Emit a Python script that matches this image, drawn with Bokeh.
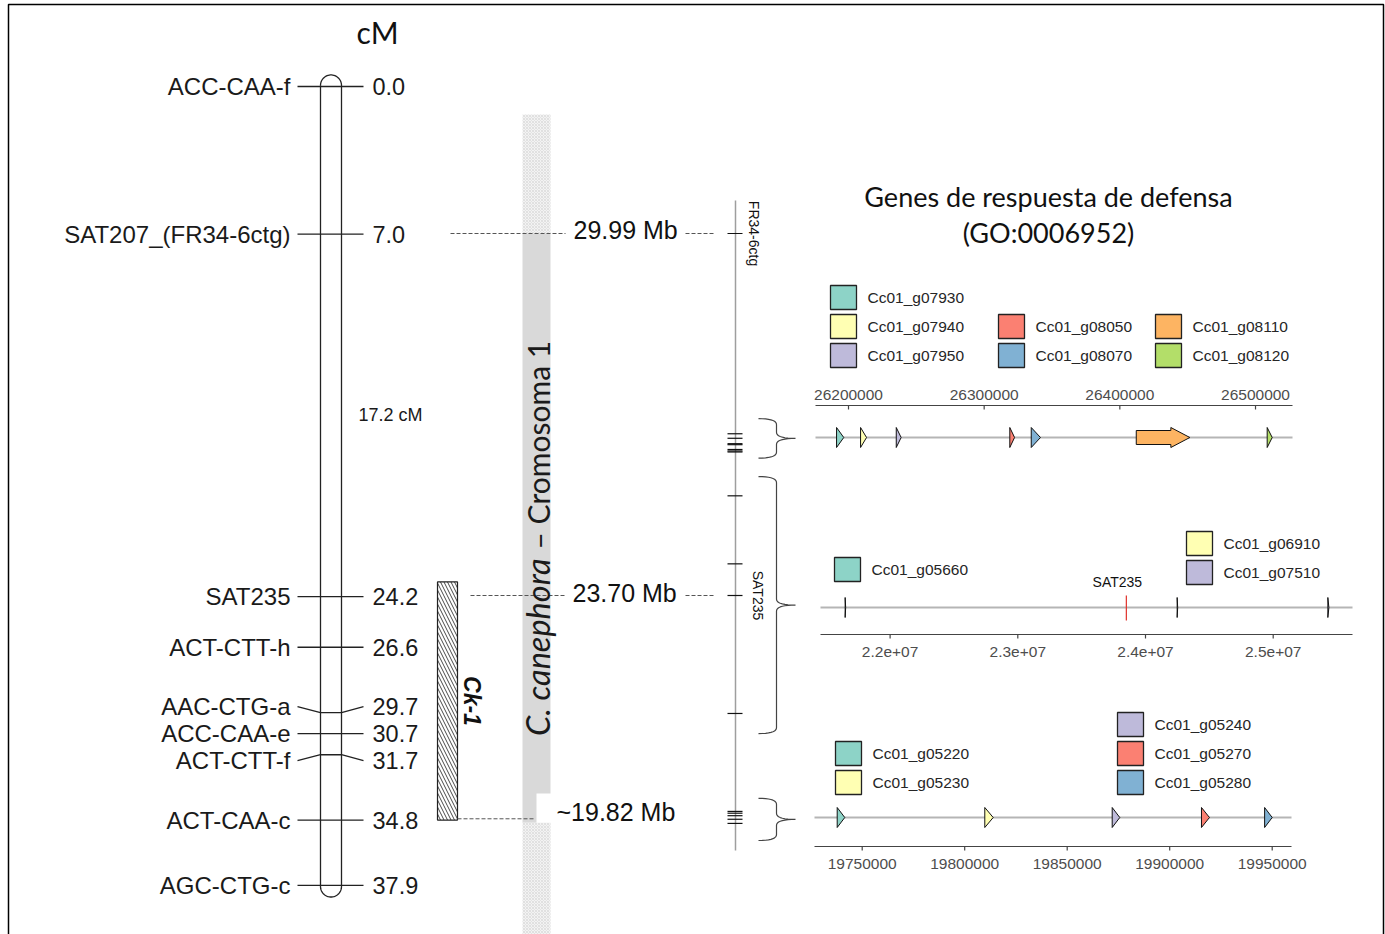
import numpy as np
from bokeh.plotting import figure
from bokeh.models import Range1d
from bokeh.core.properties import value
from bokeh.embed import file_html
from bokeh.resources import INLINE

# ===================== DATA =====================
marker_names = ["ACC-CAA-f", "SAT207_(FR34-6ctg)", "SAT235", "ACT-CTT-h",
                "AAC-CTG-a", "ACC-CAA-e", "ACT-CTT-f", "ACT-CAA-c", "AGC-CTG-c"]
marker_cm = [0.0, 7.0, 24.2, 26.6, 29.7, 30.7, 31.7, 34.8, 37.9]
qtl_label = "Ck-1"
qtl_cm = [23.5, 34.8]
interval_markers = [7.0, 24.2]

anchor_cm = [7.0, 24.2, 34.8]
anchor_mb = [29.99, 23.70, 19.82]
anchor_prefix = ["", "", "~"]

phys_markers = ["FR34-6ctg", "SAT235"]
phys_marker_mb = [29.99, 23.70]

chrom_species = "C. canephora"
chrom_name = "– Cromosoma 1"
title_lines = ["Genes de respuesta de defensa", "(GO:0006952)"]

t1_genes = ["Cc01_g07930", "Cc01_g07940", "Cc01_g07950", "Cc01_g08050",
            "Cc01_g08070", "Cc01_g08110", "Cc01_g08120"]
t1_start = [26191200, 26208900, 26235200, 26318900, 26334700, 26412100, 26508600]
t1_end = [26196500, 26213300, 26238800, 26322400, 26341500, 26451600, 26512300]
t1_ticks = [26200000, 26300000, 26400000, 26500000]

t2_genes = ["Cc01_g05660", "Cc01_g06910", "Cc01_g07510"]
t2_start = [21648000, 24248000, 25428000]
t2_end = [21652000, 24252000, 25436000]
t2_marker = "SAT235"
t2_marker_pos = 23850000
t2_ticks = [22000000, 23000000, 24000000, 25000000]

t3_genes = ["Cc01_g05220", "Cc01_g05230", "Cc01_g05240", "Cc01_g05270", "Cc01_g05280"]
t3_start = [19737800, 19809800, 19871950, 19915500, 19946300]
t3_end = [19741500, 19813900, 19875650, 19919400, 19950000]
t3_ticks = [19750000, 19800000, 19850000, 19900000, 19950000]

# ===================== STYLE / LAYOUT =====================
SET3 = ["#8DD3C7", "#FFFFB3", "#BEBADA", "#FB8072", "#80B1D3", "#FDB462", "#B3DE69"]
t1_colors = SET3[:7]
t2_colors = SET3[:3]
t3_colors = SET3[:5]

W, H = 1385, 934
ARIAL = value("Liberation Sans")
CALIBRI = value("Lato")

CM_Y0, CM_K = 86.0, 21.08          # px of 0 cM, px per cM
MB_REF, MB_Y0, MB_K = 23.70, 595.0, 57.55   # Mb reference, its px, px per Mb


def cm_px(c):
    return CM_Y0 + c * CM_K


def mb_px(m):
    return MB_Y0 + (MB_REF - m) * MB_K


p = figure(width=W, height=H, x_range=Range1d(0, W), y_range=Range1d(H, 0),
           output_backend="svg", toolbar_location=None, min_border=0,
           x_axis_location=None, y_axis_location=None, outline_line_color=None)
p.grid.visible = False
p.background_fill_color = "white"
p.border_fill_color = "white"

p.extra_y_ranges["cm"] = Range1d(start=(H - CM_Y0) / CM_K, end=(0 - CM_Y0) / CM_K)
p.extra_y_ranges["mb"] = Range1d(start=MB_REF - (H - MB_Y0) / MB_K, end=MB_REF + MB_Y0 / MB_K)


def track_range(anchor_bp, anchor_px, k):
    return Range1d(start=anchor_bp - anchor_px / k, end=anchor_bp + (W - anchor_px) / k)


K1, K2, K3 = 1.3567e-3, 127.7e-6, 2.05e-3
p.extra_x_ranges["t1"] = track_range(t1_ticks[0], 848.0, K1)
p.extra_x_ranges["t2"] = track_range(t2_ticks[2], 1145.0, K2)
p.extra_x_ranges["t3"] = track_range(t3_ticks[0], 861.7, K3)

# frame
p.line(x=[8, 8, 1383, 1383], y=[940, 4, 4, 940], line_color="black", line_width=1.5)

# ===================== LINKAGE MAP =====================
p.text(x=[377], y=[31], text=["cM"], text_font=CALIBRI, text_font_size="30px",
       text_align="center", text_baseline="middle", text_color="#111111")

# tube outline
cx, r = 330.5, 10.5
yt, yb = cm_px(-0.55) + r, cm_px(38.45) - r
ta = np.linspace(np.pi, 0, 30)
tb = np.linspace(0, -np.pi, 30)
tx = list(cx + r * np.cos(ta)) + list(cx + r * np.cos(tb)) + [cx - r]
ty = list(yt - r * np.sin(ta)) + list(yb - r * np.sin(tb)) + [yt]
p.line(x=tx, y=ty, line_color="#222222", line_width=1.3)

label_shift_px = [0, 0, 0, 0, -6, 0, 6, 0, 0]
lab_cm = [c + s / CM_K for c, s in zip(marker_cm, label_shift_px)]
xs_m, ys_m = [], []
for c, lc in zip(marker_cm, lab_cm):
    xs_m.append([297, 320, 341, 363])
    ys_m.append([lc, c, c, lc])
p.multi_line(xs=xs_m, ys=ys_m, y_range_name="cm", line_color="#222222", line_width=1.3)
p.text(x=[290] * len(marker_names), y=lab_cm, text=marker_names, y_range_name="cm",
       text_font=ARIAL, text_font_size="24px", text_align="right",
       text_baseline="middle", text_color="#1a1a1a")
p.text(x=[372] * len(marker_cm), y=lab_cm, text=[f"{c:.1f}" for c in marker_cm],
       y_range_name="cm", text_font=ARIAL, text_font_size="23.5px", text_align="left",
       text_baseline="middle", text_color="#1a1a1a")
p.text(x=[358], y=[sum(interval_markers) / 2], y_range_name="cm",
       text=[f"{interval_markers[1] - interval_markers[0]:.1f} cM"],
       text_font=ARIAL, text_font_size="18px", text_align="left",
       text_baseline="middle", text_color="#1a1a1a")

# QTL box
p.quad(left=[437], right=[457], top=[qtl_cm[0]], bottom=[qtl_cm[1]], y_range_name="cm",
       fill_color="white", line_color="#222222", line_width=1.2,
       hatch_pattern="\\", hatch_scale=7, hatch_color="#333333", hatch_weight=0.9)
p.text(x=[471], y=[sum(qtl_cm) / 2], text=[qtl_label], y_range_name="cm", angle=-np.pi / 2,
       text_font=ARIAL, text_font_size="23px", text_font_style="bold italic",
       text_align="center", text_baseline="middle", text_color="#111111")

# ===================== PHYSICAL CHROMOSOME BAR =====================
bar_l, bar_r = 522, 550
dot_kw = dict(fill_color="#f3f3f3", line_color=None, hatch_pattern="diagonal_cross",
              hatch_scale=3, hatch_color="#d4d4d4", hatch_weight=0.6)
p.quad(left=[bar_l], right=[bar_r], top=[114], bottom=[mb_px(anchor_mb[0])], **dot_kw)
p.quad(left=[bar_l], right=[bar_r], top=[mb_px(anchor_mb[0])], bottom=[mb_px(anchor_mb[2]) + 4],
       fill_color="#d9d9d9", line_color=None)
p.quad(left=[bar_l], right=[bar_r], top=[mb_px(anchor_mb[2]) + 4], bottom=[H], **dot_kw)
p.quad(left=[536], right=[552], top=[793], bottom=[mb_px(anchor_mb[2]) + 4],
       fill_color="white", line_color=None)

# connectors
left_x0 = [450, 470, 457]
left_x1 = [565, 565, 535]
text_x = [573, 572, 556]
text_dy = [-4, -3, -7]
p.segment(x0=left_x0, y0=anchor_mb, x1=left_x1, y1=anchor_mb, y_range_name="mb",
          line_color="#555555", line_width=1, line_dash="4 2")
p.segment(x0=[685, 685], y0=anchor_mb[:2], x1=[715, 715], y1=anchor_mb[:2], y_range_name="mb",
          line_color="#555555", line_width=1, line_dash="4 2")
for tx_, m, pre, dy in zip(text_x, anchor_mb, anchor_prefix, text_dy):
    p.text(x=[tx_], y=[m], y_range_name="mb", y_offset=dy,
           text=[f"{pre}{m:.2f} Mb"],
           text_font=ARIAL, text_font_size="25px", text_align="left",
           text_baseline="middle", text_color="#111111")

# chromosome label
split_px = 558
p.text(x=[537], y=[split_px], text=[chrom_species], angle=np.pi / 2,
       text_font=CALIBRI, text_font_size="32.5px", text_font_style="italic",
       text_align="right", text_baseline="middle", text_color="#1a1a1a")
p.text(x=[537], y=[split_px - 9], text=[chrom_name], angle=np.pi / 2,
       text_font=CALIBRI, text_font_size="30px",
       text_align="left", text_baseline="middle", text_color="#1a1a1a")

# ===================== PHYSICAL LINE =====================
p.segment(x0=[735], y0=[200], x1=[735], y1=[850], line_color="#9e9e9e", line_width=1.5)
gene_mb = ([(s + e) / 2e6 for s, e in zip(t1_start, t1_end)] +
           [(s + e) / 2e6 for s, e in zip(t2_start, t2_end)] +
           [(s + e) / 2e6 for s, e in zip(t3_start, t3_end)])
all_ticks = gene_mb + phys_marker_mb
p.segment(x0=[727] * len(all_ticks), y0=all_ticks, x1=[742] * len(all_ticks), y1=all_ticks,
          y_range_name="mb", line_color="#111111", line_width=1.2)
p.text(x=[753, 757], y=phys_marker_mb, text=phys_markers, y_range_name="mb", angle=-np.pi / 2,
       text_font=ARIAL, text_font_size="14px", text_align="center",
       text_baseline="middle", text_color="#111111")


def qbez(p0, c, p1, n=10):
    t = np.linspace(0, 1, n)
    x = (1 - t) ** 2 * p0[0] + 2 * (1 - t) * t * c[0] + t ** 2 * p1[0]
    y = (1 - t) ** 2 * p0[1] + 2 * (1 - t) * t * c[1] + t ** 2 * p1[1]
    return list(x), list(y)


def brace(ytop, ybot, x0=758, x1=776, x2=795, rr=6):
    ym = (ytop + ybot) / 2
    xs, ys = [], []
    for a, c, b in [((x0, ytop), (x1, ytop), (x1, ytop + rr)),
                    ((x1, ym - rr), (x1, ym), (x2, ym)),
                    ((x2, ym), (x1, ym), (x1, ym + rr)),
                    ((x1, ybot - rr), (x1, ybot), (x0, ybot))]:
        bx, by = qbez(a, c, b)
        xs += bx
        ys += by
    return xs, ys


brace_pad = [(15, 6), (19, 20), (13, 17)]
for (st, en), (pt, pb) in zip([(t1_start, t1_end), (t2_start, t2_end), (t3_start, t3_end)], brace_pad):
    bx, by = brace(mb_px(max(en) / 1e6) - pt, mb_px(min(st) / 1e6) + pb)
    p.line(x=bx, y=by, line_color="#444444", line_width=1.2)

# ===================== TITLE =====================
p.text(x=[1048, 1048], y=[196, 232], text=title_lines, text_font=CALIBRI,
       text_font_size="27px", text_align="center", text_baseline="middle",
       text_color="#111111")


# ===================== GENE TRACKS =====================
def arrows(starts, ends, yc, k, head_px=19, hh=10, bh=7):
    head = head_px / k
    xs, ys = [], []
    for s, e in zip(starts, ends):
        if e - s <= head:
            xs.append([s, e, s])
            ys.append([yc - hh, yc, yc + hh])
        else:
            h = e - head
            xs.append([s, h, h, e, h, h, s])
            ys.append([yc - bh, yc - bh, yc - hh, yc, yc + hh, yc + bh, yc + bh])
    return xs, ys


def legend(names, colors, sq_x, sq_y):
    p.quad(left=sq_x, right=[x + 26 for x in sq_x], top=[y - 12 for y in sq_y],
           bottom=[y + 12 for y in sq_y], fill_color=colors, line_color="#222222",
           line_width=1.3)
    p.text(x=[x + 37 for x in sq_x], y=sq_y, text=names, text_font=ARIAL,
           text_font_size="15.5px", text_align="left", text_baseline="middle",
           text_color="#262626")


def track(name, starts, ends, colors, k, line_x, line_y, axis_y, lab_y, ticks, fmt):
    p.segment(x0=[line_x[0]], y0=[line_y], x1=[line_x[1]], y1=[line_y],
              line_color="#b5b5b5", line_width=2)
    xs, ys = arrows(starts, ends, line_y, k)
    p.patches(xs=xs, ys=ys, x_range_name=name, fill_color=colors, line_color="#111111",
              line_width=1)
    p.segment(x0=[line_x[0]], y0=[axis_y], x1=[line_x[1]], y1=[axis_y],
              line_color="#444444", line_width=1.2)
    p.segment(x0=ticks, y0=[axis_y] * len(ticks), x1=ticks, y1=[axis_y + 4] * len(ticks),
              x_range_name=name, line_color="#444444", line_width=1.2)
    p.text(x=ticks, y=[lab_y] * len(ticks), text=[fmt(t) for t in ticks], x_range_name=name,
           text_font=ARIAL, text_font_size="15.5px", text_align="center",
           text_baseline="middle", text_color="#4d4d4d")


# track 1
legend(t1_genes, t1_colors, [830, 830, 830, 998, 998, 1155, 1155],
       [297, 326, 355, 326, 355, 326, 355])
track("t1", t1_start, t1_end, t1_colors, K1, (815, 1292), 437, 405, 394, t1_ticks,
      lambda v: f"{v:d}")

# track 2
legend(t2_genes, t2_colors, [834, 1186, 1186], [569, 543, 572])
track("t2", t2_start, t2_end, t2_colors, K2, (820, 1352), 607, 634, 651, t2_ticks,
      lambda v: f"{v:.1e}")
p.segment(x0=[t2_marker_pos], y0=[595], x1=[t2_marker_pos], y1=[620], x_range_name="t2",
          line_color="#e0302a", line_width=1.2)
p.text(x=[t2_marker_pos], y=[581], x_offset=-9, text=[t2_marker], x_range_name="t2",
       text_font=ARIAL, text_font_size="14px", text_align="center",
       text_baseline="middle", text_color="#111111")

# track 3
legend(t3_genes, t3_colors, [835, 835, 1117, 1117, 1117], [753, 782, 724, 753, 782])
track("t3", t3_start, t3_end, t3_colors, K3, (814, 1291), 817, 846, 863, t3_ticks,
      lambda v: f"{v:d}")

open("out.html", "w").write(file_html(p, INLINE))
